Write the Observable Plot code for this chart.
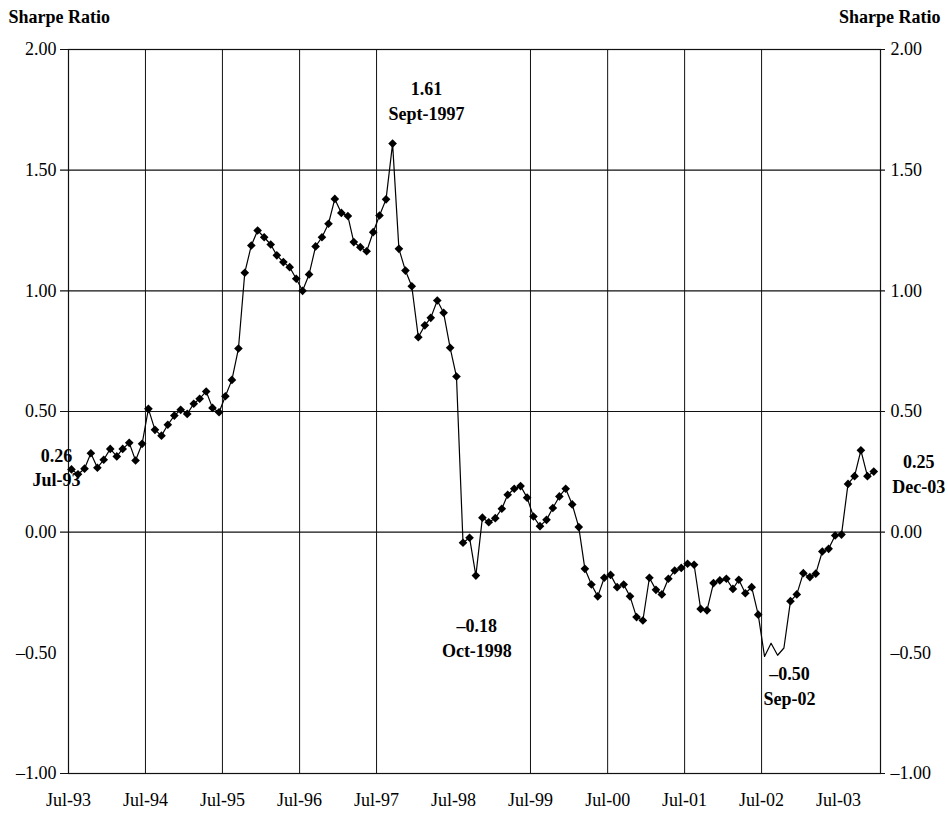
<!DOCTYPE html>
<html>
<head>
<meta charset="utf-8">
<script src="https://cdn.jsdelivr.net/npm/d3@7"></script>
<script src="https://cdn.jsdelivr.net/npm/@observablehq/plot@0.6"></script>
<style>
  html, body { margin: 0; padding: 0; background: #fff; }
  #chart { width: 948px; height: 813px; }
</style>
</head>
<body>
<div id="chart"></div>
<script>
// ---- Data (monthly Sharpe ratio, Jul-1993 .. Dec-2003) ----
const firstMonth = "1993-07";
const sharpe1993 = [0.26, 0.24, 0.263, 0.327, 0.267, 0.30];
const sharpe1994 = [0.345, 0.314, 0.345, 0.37, 0.297, 0.366, 0.511, 0.424, 0.40, 0.445, 0.483, 0.507];
const sharpe1995 = [0.49, 0.532, 0.553, 0.583, 0.515, 0.497, 0.563, 0.631, 0.761, 1.075, 1.188, 1.25];
const sharpe1996 = [1.222, 1.192, 1.147, 1.119, 1.098, 1.05, 1.0, 1.068, 1.184, 1.222, 1.278, 1.381];
const sharpe1997 = [1.323, 1.31, 1.202, 1.181, 1.164, 1.243, 1.312, 1.379, 1.61, 1.174, 1.084, 1.019];
const sharpe1998 = [0.808, 0.857, 0.888, 0.96, 0.909, 0.764, 0.645, -0.044, -0.023, -0.18, 0.06, 0.041];
const sharpe1999 = [0.058, 0.097, 0.155, 0.18, 0.191, 0.143, 0.065, 0.025, 0.051, 0.10, 0.148, 0.18];
const sharpe2000 = [0.115, 0.021, -0.152, -0.217, -0.266, -0.189, -0.177, -0.228, -0.217, -0.266, -0.352, -0.366];
const sharpe2001 = [-0.189, -0.239, -0.258, -0.193, -0.159, -0.148, -0.131, -0.135, -0.318, -0.324, -0.211, -0.20];
const sharpe2002 = [-0.193, -0.235, -0.197, -0.253, -0.228, -0.342, -0.515, -0.46, -0.51, -0.48, -0.286, -0.258];
const sharpe2003 = [-0.17, -0.186, -0.172, -0.08, -0.069, -0.014, -0.01, 0.20, 0.232, 0.339, 0.232, 0.251];

// months drawn without a marker
const unmarkedMonths = ["2002-07", "2002-08", "2002-09", "2002-10"];

// axis ticks
const xTickLabels = ["Jul-93","Jul-94","Jul-95","Jul-96","Jul-97","Jul-98","Jul-99","Jul-00","Jul-01","Jul-02","Jul-03"];
const xGridLabels = ["Jul-94","Jul-95","Jul-96","Jul-97","Jul-99","Jul-00","Jul-01","Jul-02"];
const yTickValues = [2.0, 1.5, 1.0, 0.5, 0.0, -0.5, -1.0];
const yGridValues = [2.0, 1.5, 1.0, 0.5, 0.0, -1.0];

// annotations
const annMonths = ["1993-07", "1997-09", "1998-10", "2002-09", "2003-12"];
const annValues = [0.26, 1.61, -0.18, -0.50, 0.25];
const annTexts  = ["0.26\nJul-93", "1.61\nSept-1997", "–0.18\nOct-1998", "–0.50\nSep-02", "0.25\nDec-03"];

// ---- Build table ----
const allValues = [].concat(sharpe1993, sharpe1994, sharpe1995, sharpe1996, sharpe1997,
  sharpe1998, sharpe1999, sharpe2000, sharpe2001, sharpe2002, sharpe2003);
const [fy, fm] = firstMonth.split("-").map(Number);
const start = new Date(Date.UTC(fy, fm - 1, 15));
const monthKey = d => d.toISOString().slice(0, 7);
const data = allValues.map((v, i) => {
  const date = d3.utcMonth.offset(start, i);
  return {date, value: v, key: monthKey(date)};
});
const marked = data.filter(d => !unmarkedMonths.includes(d.key));

const labelDate = lbl => {
  const yy = +lbl.slice(4);
  return new Date(Date.UTC(yy < 50 ? 2000 + yy : 1900 + yy, 6, 1));
};
const xTickDates = xTickLabels.map(labelDate);
const xGridDates = xGridLabels.map(labelDate);

const keyDate = k => { const [y, m] = k.split("-").map(Number); return new Date(Date.UTC(y, m - 1, 15)); };
const annotations = annMonths.map((k, i) => ({date: keyDate(k), value: annValues[i], text: annTexts[i]}));
// pixel offsets of each annotation from its point (style)
const annOffsets = [[-15, -3], [34, -44], [1, 61], [12, 32], [45, 1]];

const fmtY = d => (d < 0 ? "–" : "") + Math.abs(d).toFixed(2);

const chart = Plot.plot({
  width: 948,
  height: 813,
  marginTop: 49,
  marginBottom: 40,
  marginLeft: 68,
  marginRight: 68,
  style: {fontFamily: "'Liberation Serif', 'Times New Roman', serif", fontSize: "18px", color: "black", background: "white"},
  x: {type: "utc", domain: [new Date(Date.UTC(1993, 6, 1)), new Date(Date.UTC(2004, 0, 16))]},
  y: {domain: [-1, 2]},
  marks: [
    Plot.ruleX(xGridDates, {stroke: "#111", strokeWidth: 1}),
    Plot.ruleY(yGridValues, {stroke: "#111", strokeWidth: 1.2, insetLeft: -8, insetRight: -5}),
    Plot.frame({stroke: "#111", strokeWidth: 1.2}),
    Plot.axisY(yTickValues, {anchor: "left", tickSize: 0, tickPadding: 12, tickFormat: fmtY, label: null, fontSize: 18}),
    Plot.axisY(yTickValues, {anchor: "right", tickSize: 0, tickPadding: 10, tickFormat: fmtY, label: null, fontSize: 18}),
    Plot.axisX(xTickDates, {tickSize: 0, tickPadding: 20, tickFormat: (d, i) => xTickLabels[i], label: null, fontSize: 18}),
    Plot.lineY(data, {x: "date", y: "value", stroke: "black", strokeWidth: 1.2}),
    Plot.dot(marked, {x: "date", y: "value", symbol: "diamond2", r: 3.9, fill: "black", stroke: "none"}),
    ...annotations.map((a, i) => Plot.text([a], {
      x: "date", y: "value", text: "text",
      dx: annOffsets[i][0], dy: annOffsets[i][1],
      fontWeight: "bold", fontSize: 18, lineHeight: 1.35, lineAnchor: "middle", textAnchor: "middle", fill: "black"
    })),
    Plot.text(["Sharpe Ratio"], {frameAnchor: "top-left", textAnchor: "start", lineAnchor: "middle", dx: -60, dy: -32, fontWeight: "bold", fontSize: 18}),
    Plot.text(["Sharpe Ratio"], {frameAnchor: "top-right", textAnchor: "end", lineAnchor: "middle", dx: 60, dy: -32, fontWeight: "bold", fontSize: 18})
  ]
});
document.getElementById("chart").appendChild(chart);
</script>
</body>
</html>
